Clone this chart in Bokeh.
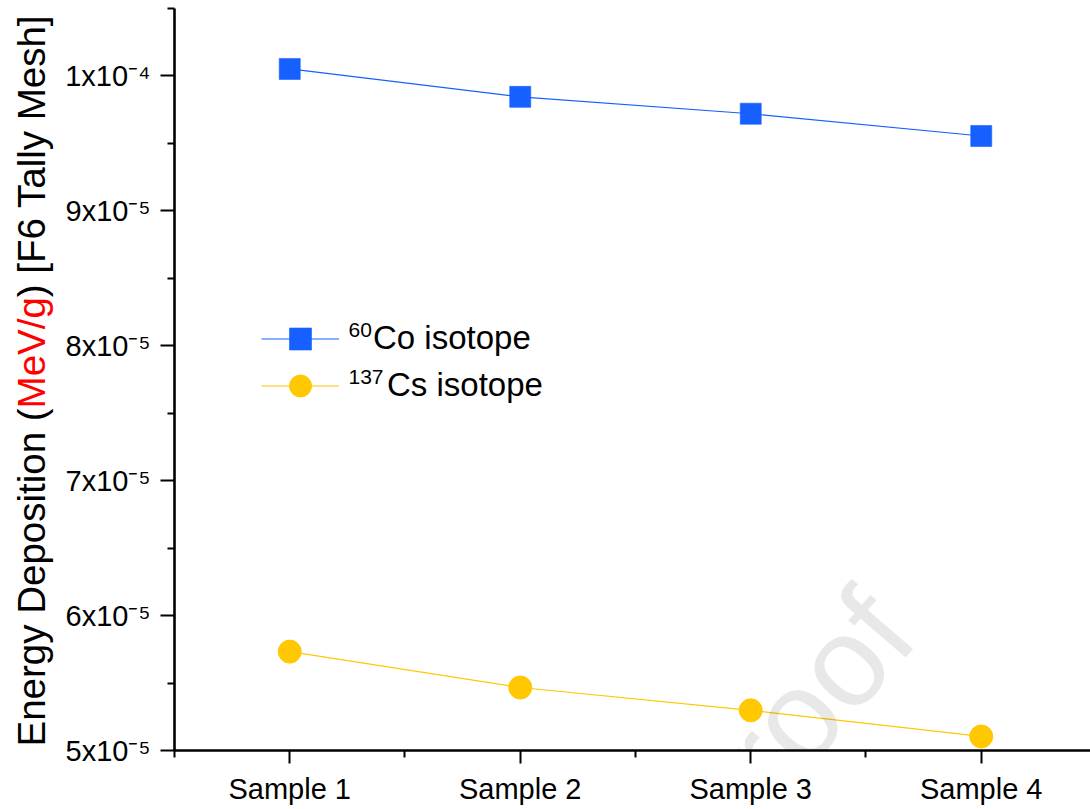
from math import pi
from bokeh.plotting import figure
from bokeh.layouts import row
from bokeh.models import (FixedTicker, Label, Legend, LegendItem, Range1d,
                          CustomJSTickFormatter)
from bokeh.embed import file_html
from bokeh.resources import INLINE

# ---- data ----
samples = ["Sample 1", "Sample 2", "Sample 3", "Sample 4"]
x_pos = [1, 2, 3, 4]
co60 = [1.0052e-4, 9.845e-5, 9.72e-5, 9.555e-5]
cs137 = [5.733e-5, 5.467e-5, 5.298e-5, 5.104e-5]
y_ticks = [5e-5, 6e-5, 7e-5, 8e-5, 9e-5, 1e-4]
y_tick_labels = ["5x10\u207b\u2075", "6x10\u207b\u2075", "7x10\u207b\u2075",
                 "8x10\u207b\u2075", "9x10\u207b\u2075", "1x10\u207b\u2074"]
y_minor = [5.5e-5, 6.5e-5, 7.5e-5, 8.5e-5, 9.5e-5, 1.05e-4]
x_minor = [0.5, 1.5, 2.5, 3.5, 4.5]
legend_sups = ["60", "137"]
legend_names = ["Co isotope", "Cs isotope"]
ylabel_parts = ["Energy Deposition (", "MeV/g", ") [F6 Tally Mesh]"]
ylabel_colors = ["black", "#ff0000", "black"]

BLUE = "#1560ff"
YELLOW = "#ffc800"
FONT = "Liberation Sans"

W, H = 1090, 809
LW = 62                     # width of the side panel holding the y title
LEFT, BOTTOM, TOP = 172 - LW, 59, 8
frame_w = W - LW - LEFT
px_per_sample = 231

# ---------------- main plot ----------------
p = figure(width=W - LW, height=H, output_backend="svg", toolbar_location=None,
           x_range=Range1d(0.5, 0.5 + frame_w / px_per_sample),
           y_range=Range1d(5e-5, 1.05e-4),
           min_border_left=LEFT, min_border_bottom=BOTTOM,
           min_border_top=TOP, min_border_right=0)
p.outline_line_color = None
p.grid.visible = False
p.background_fill_color = "white"
p.border_fill_color = "white"

r_co_l = p.line(x_pos, co60, line_color=BLUE, line_width=1.2)
r_co_m = p.scatter(x_pos, co60, marker="square", size=21, fill_color=BLUE,
                   line_color=BLUE, line_alpha=0.6)
r_cs_l = p.line(x_pos, cs137, line_color=YELLOW, line_width=1.2)
r_cs_m = p.scatter(x_pos, cs137, marker="circle", size=23, fill_color=YELLOW,
                   line_color=YELLOW)

JS_LOOKUP = """
let b = 0;
for (let i = 0; i < tvals.length; i++) { if (Math.abs(tvals[i]-tick) < Math.abs(tvals[b]-tick)) b = i; }
return tlabels[b];
"""

for ax in (p.xaxis[0], p.yaxis[0]):
    ax.axis_line_width = 2.6
    ax.axis_line_color = "black"
    ax.major_tick_line_width = 2
    ax.minor_tick_line_width = 2
    ax.major_tick_in = 0
    ax.minor_tick_in = 0
    ax.major_tick_out = 14
    ax.minor_tick_out = 7
    ax.major_label_text_font = FONT
    ax.major_label_text_color = "black"

xa = p.xaxis[0]
xa.ticker = FixedTicker(ticks=x_pos, minor_ticks=x_minor)
xa.formatter = CustomJSTickFormatter(args=dict(tvals=x_pos, tlabels=samples), code=JS_LOOKUP)
xa.major_label_text_font_size = "29px"
xa.major_label_standoff = 9
xa.major_tick_out = 13

ya = p.yaxis[0]
ya.ticker = FixedTicker(ticks=y_ticks, minor_ticks=y_minor)
ya.formatter = CustomJSTickFormatter(args=dict(tvals=y_ticks, tlabels=y_tick_labels), code=JS_LOOKUP)
ya.major_label_text_font_size = "29px"
ya.major_label_standoff = 10

# legends (one per series so each label can sit after its superscript)
leg_cfg = [((r_co_l, r_co_m), 384.5, 34, 421), ((r_cs_l, r_cs_m), 337.5, 48, 374)]
for (rends, vy, standoff, sup_y), name, sup in zip(leg_cfg, legend_names, legend_sups):
    lg = Legend(items=[LegendItem(label=name, renderers=list(rends))],
                location=(87, vy), padding=0, margin=0,
                glyph_width=78, glyph_height=55, label_standoff=standoff,
                label_text_font=FONT, label_text_font_size="33px",
                label_text_color="black",
                border_line_alpha=0, background_fill_alpha=0)
    p.add_layout(lg)
    p.add_layout(Label(x=174, y=sup_y, x_units="screen", y_units="screen",
                       text=sup, text_align="left", text_baseline="alphabetic",
                       text_font=FONT, text_font_size="21px", text_color="black"))

# faint watermark
p.add_layout(Label(x=618, y=30, x_units="screen", y_units="screen", text="proof",
                   angle=0.86, text_align="center", text_baseline="middle",
                   text_font=FONT, text_font_size="128px", text_color="black",
                   text_alpha=0.09))

# ---------------- side panel with the two-coloured y title ----------------
fs = 38.5
em = [8.781, 2.89, 7.446]   # advance widths (em) of the three title parts
side = figure(width=LW, height=H, output_backend="svg", toolbar_location=None,
              x_range=Range1d(0, LW), y_range=Range1d(0, H),
              x_axis_type=None, y_axis_type=None, title=None,
              min_border_left=0, min_border_right=0, min_border_top=TOP,
              min_border_bottom=BOTTOM)
side.outline_line_color = None
side.grid.visible = False
ypos = 4
for part, col, w in zip(ylabel_parts, ylabel_colors, em):
    side.add_layout(Label(x=31, y=ypos, x_units="screen", y_units="screen",
                          text=part, angle=pi / 2, text_align="left",
                          text_baseline="alphabetic", text_font=FONT,
                          text_font_size=f"{fs}px", text_color=col))
    ypos += w * fs

layout = row(side, p, spacing=0)
open("out.html", "w").write(file_html(layout, INLINE))
